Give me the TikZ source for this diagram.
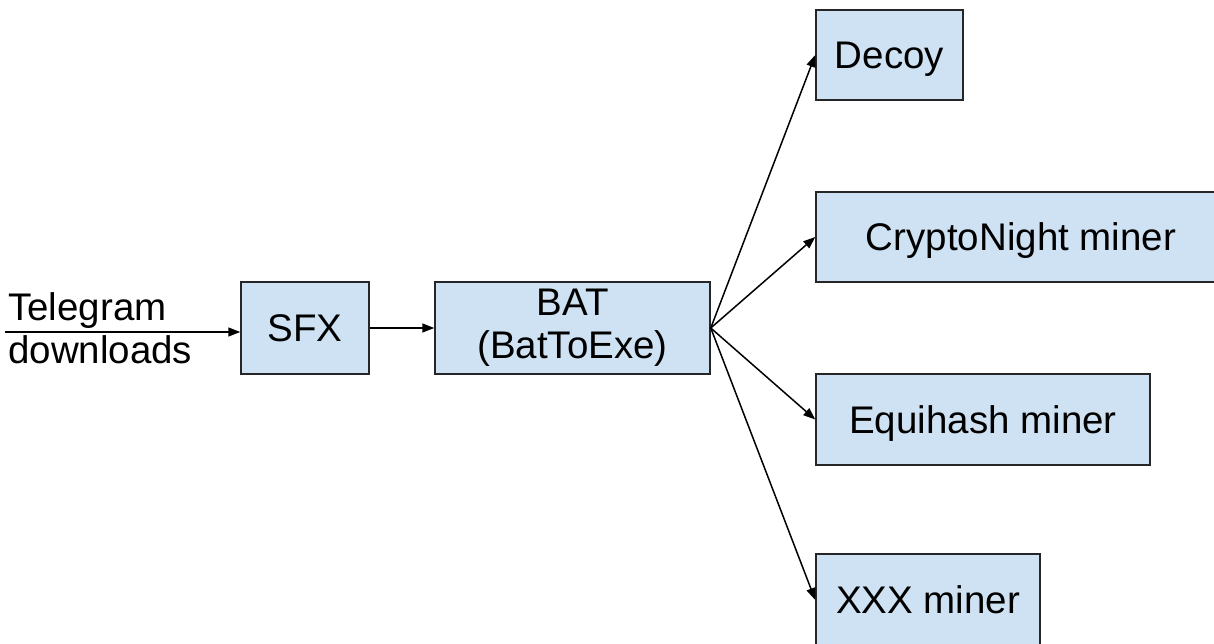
\documentclass[tikz,border=0pt]{standalone}
\usepackage{fontspec}
\setmainfont{Liberation Sans}
\usetikzlibrary{arrows.meta}
\definecolor{boxfill}{HTML}{CFE2F3}
\definecolor{boxline}{HTML}{262626}
\tikzset{
  procbox/.style={draw=boxline, fill=boxfill, line width=1.5pt, inner sep=0pt, font=\fontsize{38.5}{43}\selectfont, align=center},
  onebox/.style={procbox, text height=27pt, text depth=0pt},
  conn/.style={draw=black, line width=1.5pt, -{Triangle[length=12pt,width=9pt]}},
}
\begin{document}
\begin{tikzpicture}[x=1pt,y=-1pt]
\useasboundingbox (0,0) rectangle (1214,644);
\clip (0,0) rectangle (1214,644);
\node[onebox, minimum width=128pt, minimum height=92pt] (sfx) at (305,328) {SFX};
\node[procbox, minimum width=275pt, minimum height=92pt] (bat) at (572.5,328) {BAT\\(BatToExe)};
\node[onebox, minimum width=147pt, minimum height=90pt] (decoy) at (889.5,55) {Decoy};
\node[onebox, minimum width=410pt, minimum height=90pt] (crypto) at (1021,237) {CryptoNight miner};
\node[onebox, minimum width=334pt, minimum height=91pt] (equi) at (983,419.5) {Equihash miner};
\node[onebox, minimum width=224pt, minimum height=92pt] (xxx) at (928,600) {XXX miner};
\node[font=\fontsize{38.5}{43}\selectfont, align=left, inner sep=0pt, anchor=west] (tg) at (8,328) {Telegram\\downloads};
\coordinate (in) at (5,332);
\draw[conn] (in) -- (in -| sfx.west);
\draw[conn] (sfx.east) -- (bat.west);
\draw[conn] (bat.east) -- (decoy.west);
\draw[conn] (bat.east) -- (crypto.west);
\draw[conn] (bat.east) -- (equi.west);
\draw[conn] (bat.east) -- (xxx.west);
\end{tikzpicture}
\end{document}
